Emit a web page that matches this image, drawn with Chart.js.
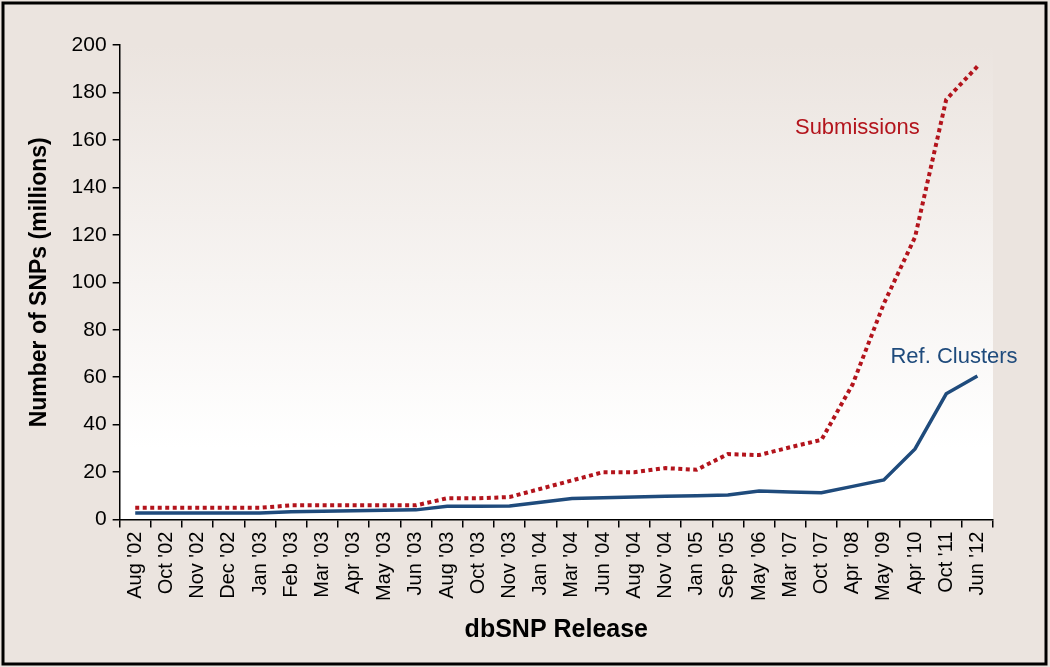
<!DOCTYPE html>
<html>
<head>
<meta charset="utf-8">
<script src="https://cdn.jsdelivr.net/npm/chart.js@4"></script>
<style>
  html, body { margin: 0; padding: 0; background: #ebe4df; }
  #wrap { width: 1050px; height: 667px; position: relative; }
</style>
</head>
<body>
<div id="wrap"><canvas id="snpChart" width="1050" height="667"></canvas></div>
<script>
// dbSNP releases
var releases = ["Aug '02", "Oct '02", "Nov '02", "Dec '02", "Jan '03", "Feb '03", "Mar '03", "Apr '03", "May '03", "Jun '03",
    "Aug '03", "Oct '03", "Nov '03", "Jan '04", "Mar '04", "Jun '04", "Aug '04", "Nov '04", "Jan '05", "Sep '05",
    "May '06", "Mar '07", "Oct '07", "Apr '08", "May '09", "Apr '10", "Oct '11", "Jun '12"];

// millions of SNPs
var submissions = [5, 5, 5, 5, 5, 6, 6, 6, 6, 6,
    9, 9, 9.5, 13, 16.5, 20, 20, 21.7, 21, 27.6,
    27.2, 30.5, 33.6, 57, 91, 119, 177, 191];
var refClusters = [2.8, 2.8, 2.8, 2.8, 2.8, 3.3, 3.5, 3.7, 3.9, 4.1,
    5.6, 5.6, 5.7, 7.3, 8.9, 9.2, 9.5, 9.8, 10.1, 10.4,
    12, 11.6, 11.3, 14, 16.7, 29.8, 53, 60.5];

var yTicks = [0, 20, 40, 60, 80, 100, 120, 140, 160, 180, 200];

var fontFamily = "'Liberation Sans', Arial, Helvetica, sans-serif";
Chart.defaults.font.family = fontFamily;
Chart.defaults.color = '#000';

var red = '#b3141c';
var navy = '#1f4b7c';

// background, plot gradient, frame and series labels
var decor = {
    id: 'decor',
    beforeDraw: function (chart) {
        var c = chart.ctx, a = chart.chartArea;
        c.save();
        c.fillStyle = '#ebe4df';
        c.fillRect(0, 0, chart.width, chart.height);
        var g = c.createLinearGradient(0, a.top, 0, a.bottom);
        g.addColorStop(0, '#ebe4df');
        g.addColorStop(0.85, '#ffffff');
        g.addColorStop(1, '#ffffff');
        c.fillStyle = g;
        c.fillRect(a.left, a.top, a.right - a.left, a.bottom - a.top);
        c.restore();
    },
    afterDraw: function (chart) {
        var c = chart.ctx;
        var x = chart.scales.x, y = chart.scales.y;
        c.save();
        c.font = '22px ' + fontFamily;
        c.textAlign = 'center';
        c.textBaseline = 'middle';
        c.fillStyle = red;
        c.fillText('Submissions', x.getPixelForValue(23.15), y.getPixelForValue(165));
        c.fillStyle = navy;
        c.fillText('Ref. Clusters', x.getPixelForValue(26.25), y.getPixelForValue(68.5));
        c.strokeStyle = '#000';
        c.lineWidth = 3;
        c.strokeRect(3, 3, chart.width - 7, chart.height - 6);
        c.restore();
    }
};

var ctx = document.getElementById('snpChart');
var myChart = new Chart(ctx, {
    type: 'line',
    data: {
        labels: releases,
        datasets: [
            {
                label: 'Submissions',
                data: submissions,
                borderColor: red,
                borderWidth: 4,
                borderDash: [4, 3.5],
                borderCapStyle: 'butt',
                pointRadius: 0,
                tension: 0
            },
            {
                label: 'Ref. Clusters',
                data: refClusters,
                borderColor: navy,
                borderWidth: 3.5,
                pointRadius: 0,
                tension: 0
            }
        ]
    },
    options: {
        responsive: false,
        animation: false,
        layout: {
            padding: { left: 26, right: 57, top: 45, bottom: 22 }
        },
        plugins: {
            legend: { display: false },
            tooltip: { enabled: false }
        },
        scales: {
            x: {
                offset: true,
                grid: {
                    offset: true,
                    drawOnChartArea: false,
                    drawTicks: true,
                    tickLength: 8,
                    color: '#000',
                    lineWidth: 1.5
                },
                border: { display: true, color: '#000', width: 1.5 },
                ticks: {
                    autoSkip: false,
                    minRotation: 90,
                    maxRotation: 90,
                    padding: 4,
                    font: { size: 20 },
                    color: '#000'
                },
                title: {
                    display: true,
                    text: 'dbSNP Release',
                    font: { size: 25, weight: 'bold' },
                    padding: { top: 10, bottom: 0 }
                }
            },
            y: {
                min: 0,
                max: 200,
                afterBuildTicks: function (axis) {
                    axis.ticks = yTicks.map(function (v) { return { value: v }; });
                },
                grid: {
                    drawOnChartArea: false,
                    drawTicks: true,
                    tickLength: 7,
                    color: '#000',
                    lineWidth: 1.5
                },
                border: { display: true, color: '#000', width: 1.5 },
                ticks: {
                    padding: 6,
                    font: { size: 21 },
                    color: '#000'
                },
                title: {
                    display: true,
                    text: 'Number of SNPs (millions)',
                    font: { size: 23, weight: 'bold' },
                    padding: { top: 0, bottom: 12 }
                }
            }
        }
    },
    plugins: [decor]
});
</script>
</body>
</html>
